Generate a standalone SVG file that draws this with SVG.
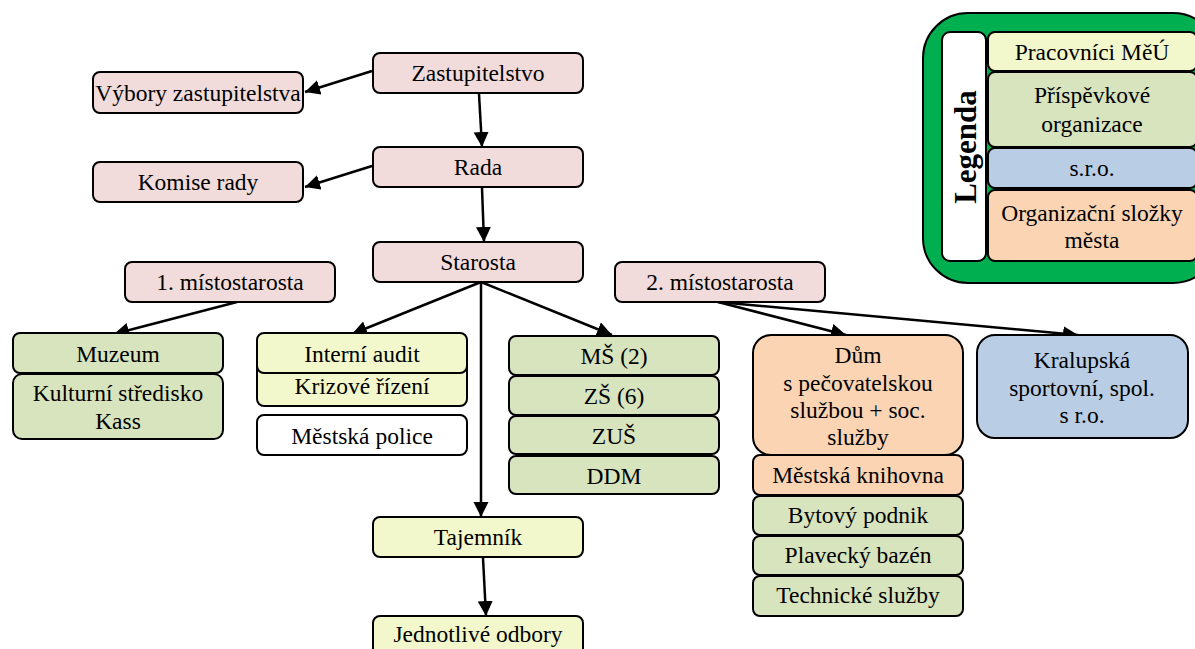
<svg xmlns="http://www.w3.org/2000/svg" width="1195" height="649" viewBox="0 0 1195 649">
<style>
.b{stroke:#000;stroke-width:2}
.pk{fill:#F2DCDB}.yl{fill:#F2F8CC}.gr{fill:#D7E4BD}.bl{fill:#B9CDE5}.or{fill:#FBD4B4}.wh{fill:#fff}
text{font-family:"Liberation Serif","Times New Roman",serif;font-size:23.5px;fill:#000;text-anchor:middle}
.lg{font-weight:bold;font-size:31px}
.c{stroke:#000;stroke-width:2.5;fill:none;marker-end:url(#ah)}
</style>
<defs>
<marker id="ah" markerUnits="userSpaceOnUse" markerWidth="18" markerHeight="18" refX="15" refY="7.5" orient="auto">
<path d="M0,0 L15,7.5 L0,15 Z" fill="#000"/>
</marker>
</defs>
<rect width="1195" height="649" fill="#fff"/>

<g id="legend">
<rect x="923" y="13" width="295" height="270" rx="45" fill="#00B050" class="b"/>
<rect x="942" y="32" width="44" height="229" rx="8" class="b wh"/>
<text class="lg" transform="translate(976,147) rotate(-90)">Legenda</text>
<rect x="988" y="32" width="209" height="39" rx="7" class="b yl"/>
<text x="1092" y="60">Pracovníci MěÚ</text>
<rect x="988" y="72" width="209" height="75" rx="7" class="b gr"/>
<text x="1092" y="103">Příspěvkové</text>
<text x="1092" y="132">organizace</text>
<rect x="988" y="148" width="209" height="40" rx="7" class="b bl"/>
<text x="1092" y="176">s.r.o.</text>
<rect x="988" y="190" width="209" height="71" rx="7" class="b or"/>
<text x="1092" y="221">Organizační složky</text>
<text x="1092" y="248">města</text>
</g>

<g id="connectors">
<path class="c" d="M372,71 L305,92"/>
<path class="c" d="M479,94 L482,147"/>
<path class="c" d="M372,166 L305,187"/>
<path class="c" d="M482,188 L484,242"/>
<path class="c" d="M481,282 L352,334"/>
<path class="c" d="M481,282 L612,335"/>
<path class="c" d="M481,282 L481,517"/>
<path class="c" d="M237,302 L114,334"/>
<path class="c" d="M718,302 L846,335"/>
<path class="c" d="M718,302 L1078,335"/>
<path class="c" d="M483,558 L486,616"/>
</g>

<g id="zastupitelstvo"><rect x="373" y="53" width="210" height="40" rx="7" class="b pk"/><text x="478" y="81">Zastupitelstvo</text></g>
<g id="vybory"><rect x="93" y="72" width="210" height="41" rx="7" class="b pk"/><text x="198" y="101">Výbory zastupitelstva</text></g>
<g id="rada"><rect x="373" y="147" width="210" height="40" rx="7" class="b pk"/><text x="478" y="175">Rada</text></g>
<g id="komise"><rect x="93" y="162" width="210" height="40" rx="7" class="b pk"/><text x="198" y="190">Komise rady</text></g>
<g id="starosta"><rect x="373" y="242" width="210" height="40" rx="7" class="b pk"/><text x="478" y="270">Starosta</text></g>
<g id="mistostarosta1"><rect x="125" y="262" width="210" height="40" rx="7" class="b pk"/><text x="230" y="290">1. místostarosta</text></g>
<g id="mistostarosta2"><rect x="615" y="262" width="210" height="40" rx="7" class="b pk"/><text x="720" y="290">2. místostarosta</text></g>

<g id="muzeum"><rect x="13" y="333" width="210" height="40" rx="7" class="b gr"/><text x="118" y="362">Muzeum</text></g>
<g id="kass"><rect x="13" y="374" width="210" height="65" rx="9" class="b gr"/><text x="118" y="401">Kulturní středisko</text><text x="118" y="429">Kass</text></g>

<g id="krizove"><rect x="257" y="355" width="210" height="51" rx="7" class="b yl"/><text x="362" y="394">Krizové řízení</text></g>
<g id="audit"><rect x="257" y="333" width="210" height="40" rx="7" class="b yl"/><text x="362" y="362">Interní audit</text></g>
<g id="policie"><rect x="257" y="415" width="210" height="40" rx="7" class="b wh"/><text x="362" y="444">Městská police</text></g>

<g id="ms"><rect x="509" y="336" width="210" height="39" rx="7" class="b gr"/><text x="614" y="364">MŠ (2)</text></g>
<g id="zs"><rect x="509" y="376" width="210" height="39" rx="7" class="b gr"/><text x="614" y="404">ZŠ (6)</text></g>
<g id="zus"><rect x="509" y="416" width="210" height="38" rx="7" class="b gr"/><text x="614" y="444">ZUŠ</text></g>
<g id="ddm"><rect x="509" y="456" width="210" height="38" rx="7" class="b gr"/><text x="614" y="484">DDM</text></g>

<g id="dum"><rect x="753" y="335" width="210" height="120" rx="18" class="b or"/>
<text x="858" y="363">Dům</text><text x="858" y="391">s pečovatelskou</text><text x="858" y="418">službou + soc.</text><text x="858" y="445">služby</text></g>
<g id="knihovna"><rect x="753" y="455" width="210" height="40" rx="7" class="b or"/><text x="858" y="483">Městská knihovna</text></g>
<g id="bytovy"><rect x="753" y="496" width="210" height="39" rx="7" class="b gr"/><text x="858" y="523">Bytový podnik</text></g>
<g id="bazen"><rect x="753" y="536" width="210" height="39" rx="7" class="b gr"/><text x="858" y="563">Plavecký bazén</text></g>
<g id="technicke"><rect x="753" y="576" width="210" height="40" rx="7" class="b gr"/><text x="858" y="603">Technické služby</text></g>

<g id="kralupska"><rect x="977" y="335" width="211" height="103" rx="18" class="b bl"/>
<text x="1082" y="368">Kralupská</text><text x="1082" y="396">sportovní, spol.</text><text x="1082" y="423">s r.o.</text></g>

<g id="tajemnik"><rect x="373" y="517" width="210" height="40" rx="7" class="b yl"/><text x="478" y="545">Tajemník</text></g>
<g id="odbory"><rect x="373" y="616" width="210" height="44" rx="7" class="b yl"/><text x="478" y="642">Jednotlivé odbory</text></g>
</svg>
